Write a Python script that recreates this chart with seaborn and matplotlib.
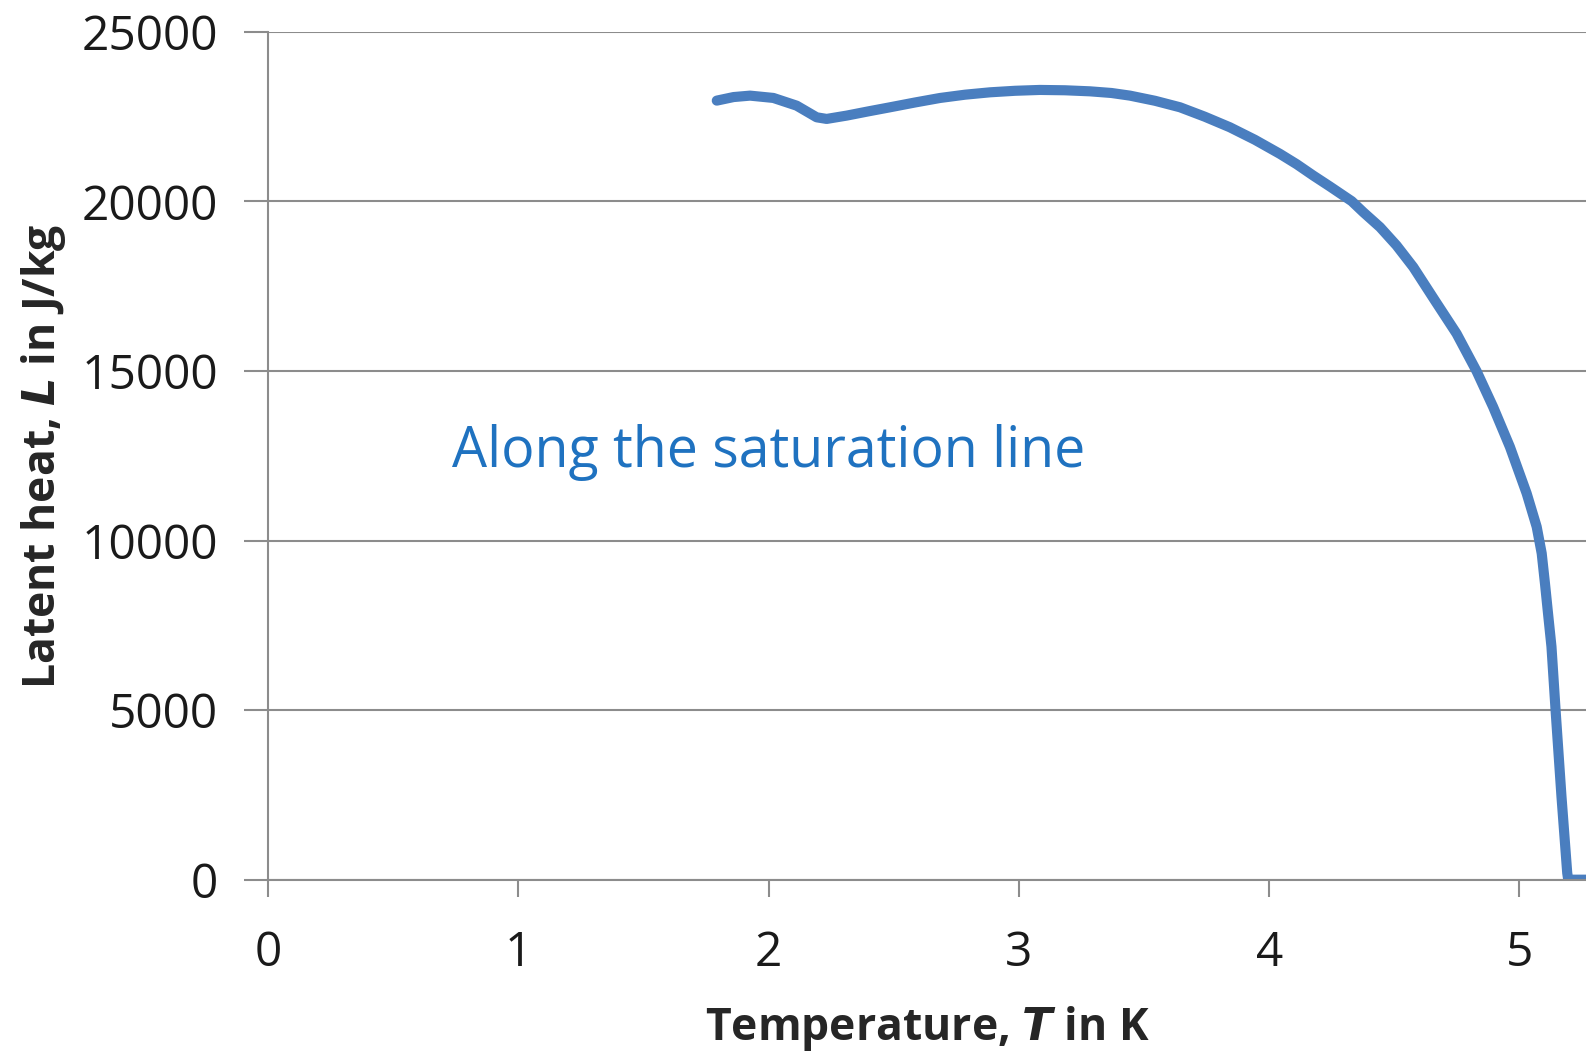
import matplotlib
matplotlib.use("Agg")
import matplotlib.pyplot as plt
import seaborn as sns
import pandas as pd

# Data (temperature in K, latent heat in J/kg)
temperature = [1.793, 1.86, 1.926, 2.019, 2.112, 2.192, 2.232, 2.312, 2.40, 2.485, 2.585,
               2.685, 2.785, 2.885, 2.985, 3.084, 3.184, 3.284, 3.37, 3.444, 3.544, 3.644,
               3.743, 3.843, 3.943, 4.043, 4.11, 4.176, 4.243, 4.330, 4.376, 4.443, 4.509,
               4.576, 4.662, 4.749, 4.829, 4.895, 4.962, 5.029, 5.069, 5.089, 5.102, 5.115,
               5.128, 5.145, 5.168, 5.191, 5.195, 5.266]
latent_heat = [22975, 23080, 23122, 23054, 22827, 22483, 22435, 22533, 22660, 22778, 22920,
               23053, 23150, 23220, 23265, 23290, 23280, 23249, 23200, 23122, 22970, 22778,
               22500, 22189, 21820, 21405, 21100, 20766, 20442, 20009, 19686, 19243, 18704,
               18065, 17084, 16102, 14993, 13941, 12763, 11390, 10406, 9623, 8739, 7800,
               6873, 4939, 2454, 197, 0, 0]

x_ticks = [0, 1, 2, 3, 4, 5]
y_ticks = [0, 5000, 10000, 15000, 20000, 25000]

df = pd.DataFrame({"T": temperature, "L": latent_heat})

sns.set_theme(style="white")
plt.rcParams["font.family"] = ["Open Sans", "DejaVu Sans"]

fig = plt.figure(figsize=(15.86, 10.51), dpi=100)
ax = fig.add_axes([0.169, 0.163, 0.831, 0.8066])

sns.lineplot(data=df, x="T", y="L", ax=ax, sort=False, color="#4A7EBF",
             linewidth=7.3, solid_capstyle="round", solid_joinstyle="round")

ax.set_xlim(0, 5.266)
ax.set_ylim(0, 25000)
ax.set_xticks(x_ticks)
ax.set_yticks(y_ticks)
ax.set_xticklabels([str(v) for v in x_ticks])
ax.set_yticklabels([str(v) for v in y_ticks])

grid_col = "#8C8C8C"
ax.grid(axis="y", color=grid_col, linewidth=1.5)
ax.set_axisbelow(True)
for s in ["top", "right"]:
    ax.spines[s].set_visible(False)
ax.spines["left"].set_color(grid_col)
ax.spines["left"].set_linewidth(1.5)
ax.spines["bottom"].set_color(grid_col)
ax.spines["bottom"].set_linewidth(1.5)

ax.tick_params(axis="x", direction="out", length=12, width=1.5, color=grid_col,
               labelsize=34.5, pad=24, labelcolor="#1a1a1a", bottom=True)
ax.tick_params(axis="y", direction="out", length=17, width=1.5, color=grid_col,
               labelsize=34.5, pad=19, labelcolor="#1a1a1a", left=True)

ax.set_xlabel("Temperature, $\\boldsymbol{T}$ in K", fontsize=32, fontweight="bold", labelpad=19)
ax.set_ylabel("Latent heat, $\\boldsymbol{L}$ in J/kg", fontsize=32, fontweight="bold", labelpad=10)

ax.text(0.735, 12600, "Along the saturation line", fontsize=40, color="#1F72C0",
        ha="left", va="center")

fig.savefig("out.png", dpi=100)
